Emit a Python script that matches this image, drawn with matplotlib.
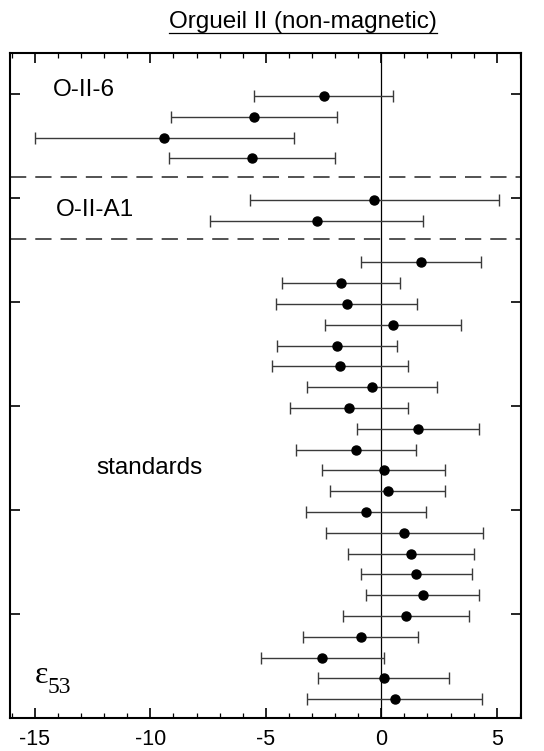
import matplotlib
matplotlib.use("Agg")
import matplotlib.pyplot as plt
from matplotlib.lines import Line2D
from matplotlib.ticker import MultipleLocator, FixedLocator

plt.rcParams['font.family'] = ['Liberation Sans', 'DejaVu Sans']

# O-II-6 samples
o6_vals = [-2.5, -5.5, -9.4, -5.6]
o6_errs = [3.0, 3.6, 5.6, 3.6]
# O-II-A1 samples
a1_vals = [-0.3, -2.8]
a1_errs = [5.4, 4.6]
# standards
std_vals = [1.7, -1.75, -1.5, 0.5, -1.9, -1.8, -0.4, -1.4, 1.6, -1.1, 0.1,
            0.27, -0.65, 1.0, 1.28, 1.52, 1.8, 1.06, -0.9, -2.55, 0.1, 0.58]
std_errs = [2.6, 2.55, 3.05, 2.95, 2.6, 2.95, 2.8, 2.55, 2.65, 2.6, 2.65,
            2.5, 2.6, 3.4, 2.73, 2.4, 2.45, 2.72, 2.47, 2.65, 2.83, 3.8]

group_labels = ["O-II-6", "O-II-A1", "standards"]
x_ticks = [-15, -10, -5, 0, 5]
title = "Orgueil II (non-magnetic)"

# row positions (groups separated by a dashed-line slot)
o6_rows = list(range(0, len(o6_vals)))
a1_rows = list(range(5, 5 + len(a1_vals)))
std_rows = list(range(8, 8 + len(std_vals)))

fig = plt.figure(figsize=(5.44, 7.51), dpi=100)
ax = fig.add_axes([10/544, 33/751, 511/544, 665/751])

ax.set_xlim(-16.08, 6.05)
ax.set_ylim(29.9, -2.07)

ebkw = dict(fmt='o', color='black', ecolor='#3a3a3a', elinewidth=1.0,
            capsize=4, capthick=1.0, markersize=6.5, zorder=3)
ax.errorbar(o6_vals, o6_rows, xerr=o6_errs, **ebkw)
ax.errorbar(a1_vals, a1_rows, xerr=a1_errs, **ebkw)
ax.errorbar(std_vals, std_rows, xerr=std_errs, **ebkw)

ax.axvline(0, color='black', lw=0.9, zorder=2)
for yl in (3.9, 6.88):
    ax.axhline(yl, color='#444444', lw=1.3, dashes=(9, 5), zorder=2)

# ticks
ax.xaxis.set_major_locator(FixedLocator(x_ticks))
ax.xaxis.set_minor_locator(MultipleLocator(1))
ax.set_xticklabels([str(t) for t in x_ticks])
ax.yaxis.set_major_locator(FixedLocator([-0.12, 4.88, 9.88, 14.88, 19.88, 24.88]))
ax.set_yticklabels([])
ax.tick_params(axis='both', which='major', direction='in', length=7.5, width=1.2,
               top=True, right=True, labelsize=15.5, pad=8)
ax.tick_params(axis='x', which='minor', direction='in', length=3.5, width=0.9,
               top=True, bottom=True)
for sp in ax.spines.values():
    sp.set_linewidth(1.5)

# group labels
ax.text(-14.22, -0.29, group_labels[0], fontsize=17.5, va='center', ha='left')
ax.text(-14.09, 5.48, group_labels[1], fontsize=17.5, va='center', ha='left')
ax.text(-12.36, 17.88, group_labels[2], fontsize=17.5, va='center', ha='left')

# epsilon_53 label
ax.text(-14.99, 28.22, "\u03b5", fontsize=23, family=['Liberation Serif', 'DejaVu Serif'],
        va='baseline', ha='left')
ax.text(-14.45, 28.69, "53", fontsize=17, family=['Liberation Serif', 'DejaVu Serif'],
        va='baseline', ha='left')

# underlined title
t = fig.text(303/544, 1 - 22/751, title, fontsize=17.5, ha='center', va='center')
fig.canvas.draw()
bb = t.get_window_extent()
W, H = fig.bbox.width, fig.bbox.height
uy = 1 - 33/751
fig.add_artist(Line2D([bb.x0/W, bb.x1/W], [uy, uy], transform=fig.transFigure,
                      color='black', lw=0.9))

fig.savefig("out.png", dpi=100)
